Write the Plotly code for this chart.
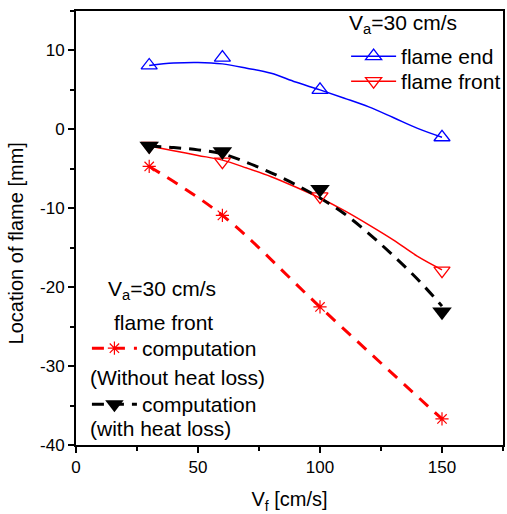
import plotly.graph_objects as go

# Measured points
vf = [30, 60, 100, 150]
flame_end = [8.1, 9.1, 5.0, -1.0]
flame_front = [-2.1, -4.1, -8.5, -17.9]
comp_with_loss = [-2.1, -2.8, -7.6, -23.1]
comp_without_loss = [-4.7, -10.9, -22.5, -36.7]

# Fitted curves
fit_x = [30, 40, 50, 60, 70, 80, 90, 100, 110, 120, 130, 140, 150]
flame_end_fit = [8.1, 8.4, 8.48, 8.3, 7.75, 7.1, 6.0, 5.0, 3.95, 2.85, 1.5, 0.12, -1.0]
flame_front_fit = [-2.1, -2.7, -3.3, -3.9, -4.9, -6.0, -7.3, -8.7, -10.3, -12.1, -14.0, -16.1, -17.8]
with_loss_fit = [-2.1, -2.3, -2.6, -3.1, -4.2, -5.5, -7.0, -8.7, -10.7, -13.2, -16.0, -19.0, -22.4]

# Tick labels
x_ticks = [0, 50, 100, 150]
x_ticktext = ["0", "50", "100", "150"]
y_ticks = [-40, -30, -20, -10, 0, 10]
y_ticktext = ["-40", "-30", "-20", "-10", "0", "10"]

FONT = "Liberation Sans, Arial, sans-serif"
BLUE = "#0000ff"
RED = "#ff0000"

fig = go.Figure()

# fitted lines
fig.add_trace(go.Scatter(x=fit_x, y=flame_end_fit, mode="lines", line=dict(color=BLUE, width=1.5, shape="spline"), showlegend=False))
fig.add_trace(go.Scatter(x=fit_x, y=flame_front_fit, mode="lines", line=dict(color=RED, width=1.5, shape="spline"), showlegend=False))
fig.add_trace(go.Scatter(x=fit_x, y=with_loss_fit, mode="lines", line=dict(color="black", width=3, dash="12px,8px", shape="spline"), showlegend=False))
fig.add_trace(go.Scatter(x=vf, y=comp_without_loss, mode="lines", line=dict(color=RED, width=3, dash="12px,9px", shape="spline"), showlegend=False))

# markers
m_end = dict(symbol="triangle-up-open", size=14, color=BLUE, line=dict(width=1.3, color=BLUE))
m_front = dict(symbol="triangle-down-open", size=14, color=RED, line=dict(width=1.3, color=RED))
m_with = dict(symbol="triangle-down", size=17, color="black", line=dict(width=0))
m_without = dict(symbol="asterisk-open", size=11, color=RED, line=dict(width=1.2, color=RED))

fig.add_trace(go.Scatter(x=vf, y=flame_end, mode="markers", marker=m_end, showlegend=False))
fig.add_trace(go.Scatter(x=vf, y=flame_front, mode="markers", marker=m_front, showlegend=False))
fig.add_trace(go.Scatter(x=vf, y=comp_without_loss, mode="markers", marker=m_without, showlegend=False))
fig.add_trace(go.Scatter(x=vf, y=comp_with_loss, mode="markers", marker=m_with, showlegend=False))

# legend entries (one legend per entry for exact spacing)
fig.add_trace(go.Scatter(x=[None], y=[None], mode="lines+markers", name="flame end",
                         line=dict(color=BLUE, width=1.5), marker=m_end, legend="legend"))
fig.add_trace(go.Scatter(x=[None], y=[None], mode="lines+markers", name="flame front",
                         line=dict(color=RED, width=1.5), marker=m_front, legend="legend3"))
fig.add_trace(go.Scatter(x=[None], y=[None], mode="lines+markers", name="computation",
                         line=dict(color=RED, width=3, dash="12px,9px"), marker=m_without, legend="legend2"))
fig.add_trace(go.Scatter(x=[None], y=[None], mode="lines+markers", name="computation",
                         line=dict(color="black", width=3, dash="12px,8px"), marker=m_with, legend="legend4"))

def px2x(px):
    return (px - 76) / 430

def px2y(py):
    return (445 - py) / 434

annots = [
    ("V<sub>a</sub>=30 cm/s", 349, 24),
    ("V<sub>a</sub>=30 cm/s", 106, 290),
    ("flame front", 112, 322),
    ("(Without heat loss)", 88, 377),
    ("(with heat loss)", 88, 428),
]
annotations = [dict(text=t, x=px2x(x), y=px2y(y), xref="paper", yref="paper", xanchor="left",
                    yanchor="middle", showarrow=False, font=dict(family=FONT, size=21, color="black"))
               for t, x, y in annots]
annotations.append(dict(text="Location of flame [mm]", textangle=-90, x=px2x(16), y=px2y(243),
                        xref="paper", yref="paper", xanchor="center", yanchor="middle", showarrow=False,
                        font=dict(family=FONT, size=20, color="black")))

axis_common = dict(showline=True, linewidth=2, linecolor="black", mirror=True, ticks="outside",
                   ticklen=6, tickwidth=1.5, tickcolor="black", showgrid=False, zeroline=False,
                   tickfont=dict(family=FONT, size=17, color="black"))

def leg(px, py):
    return dict(x=px2x(px), y=px2y(py), xanchor="left", yanchor="top", bgcolor="rgba(0,0,0,0)",
                font=dict(family=FONT, size=21), itemwidth=45)

fig.update_layout(
    width=507, height=514,
    margin=dict(l=76, r=1, t=11, b=69),
    paper_bgcolor="white", plot_bgcolor="white",
    font=dict(family=FONT, size=20, color="black"),
    xaxis=dict(range=[0, 175], tickmode="array", tickvals=x_ticks, ticktext=x_ticktext,
               minor=dict(dtick=25, tick0=0, ticks="outside", ticklen=4, tickwidth=1.5, tickcolor="black"),
               title=dict(text="V<sub>f</sub> [cm/s]", font=dict(family=FONT, size=20), standoff=16),
               **axis_common),
    yaxis=dict(range=[-40, 15], tickmode="array", tickvals=y_ticks, ticktext=y_ticktext,
               minor=dict(dtick=5, tick0=0, ticks="outside", ticklen=4, tickwidth=1.5, tickcolor="black"),
               **axis_common),
    legend=leg(348, 36),
    legend3=leg(348, 61),
    legend2=leg(87, 328),
    legend4=leg(87, 384),
    annotations=annotations,
)

fig.write_html("out.html")
